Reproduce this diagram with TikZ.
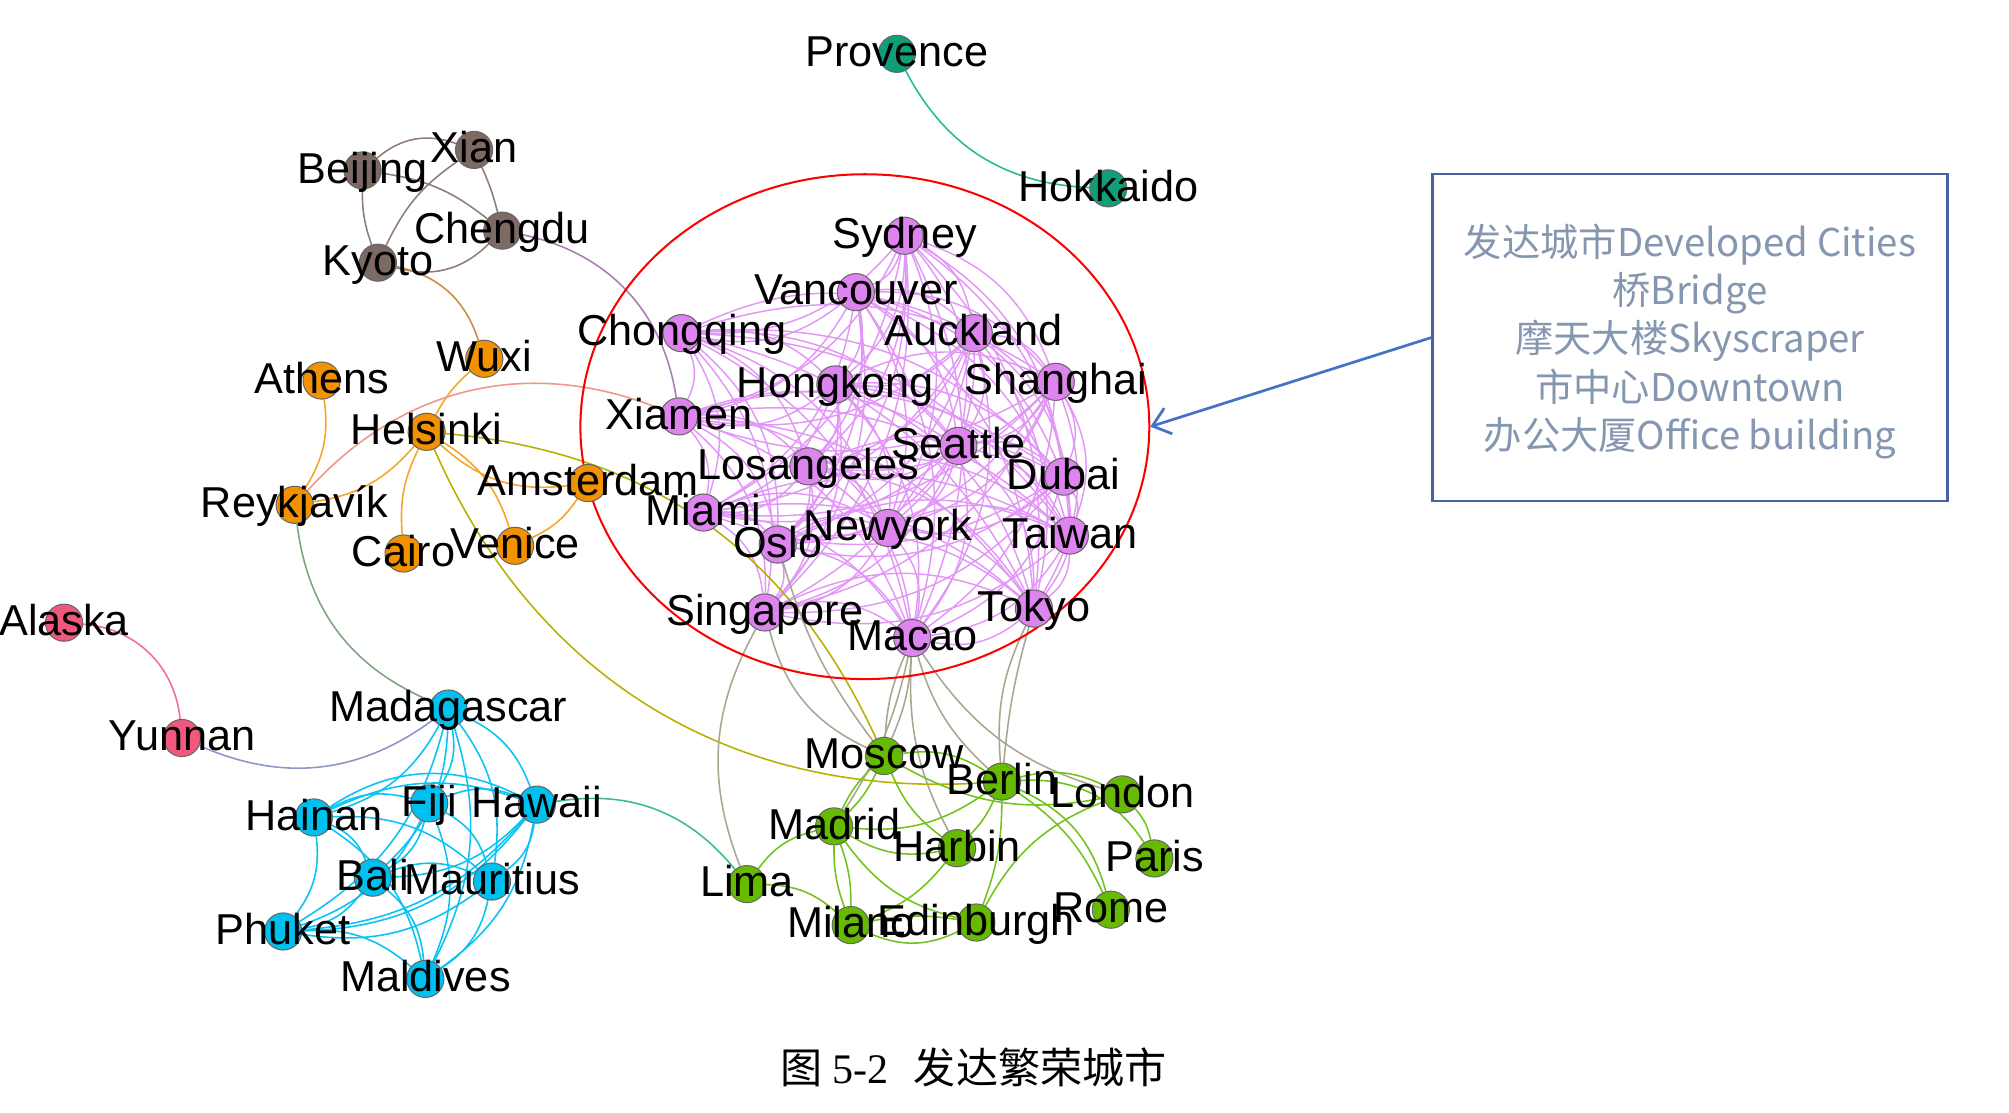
\documentclass[tikz,border=0pt]{standalone}
\usepackage{fontspec}
\setmainfont{Liberation Sans}
\newfontfamily\cjk{Noto Sans CJK SC}
\newfontfamily\serifrm{Liberation Serif}
\usetikzlibrary{arrows.meta,shapes.geometric}
\pgfdeclarelayer{bg}
\pgfsetlayers{bg,main}
\definecolor{cPur}{RGB}{222,132,238}
\definecolor{ePur}{RGB}{226,150,246}
\definecolor{cOra}{RGB}{243,146,0}
\definecolor{eOra}{RGB}{245,165,40}
\definecolor{cBro}{RGB}{125,106,100}
\definecolor{eBro}{RGB}{145,125,120}
\definecolor{cTea}{RGB}{16,158,120}
\definecolor{eTea}{RGB}{40,185,150}
\definecolor{cPin}{RGB}{240,88,125}
\definecolor{ePin}{RGB}{245,110,145}
\definecolor{cCya}{RGB}{0,192,240}
\definecolor{eCya}{RGB}{10,195,245}
\definecolor{cGre}{RGB}{102,187,0}
\definecolor{eGre}{RGB}{115,195,30}
\definecolor{eGry}{RGB}{168,168,145}
\definecolor{eOli}{RGB}{185,175,0}
\definecolor{eSal}{RGB}{240,150,135}
\definecolor{ePlu}{RGB}{170,125,180}
\definecolor{eMos}{RGB}{125,165,125}
\definecolor{eSla}{RGB}{140,150,200}
\definecolor{eSea}{RGB}{60,190,130}
\definecolor{eAmb}{RGB}{200,140,70}
\definecolor{boxc}{RGB}{70,100,165}
\definecolor{arrc}{RGB}{68,114,196}
\definecolor{txtc}{RGB}{132,150,176}
\tikzset{
  city/.style={circle, draw=black!60, line width=0.45pt, minimum size=5.8mm, inner sep=0pt},
  lab/.style={anchor=base, inner sep=0pt, font=\fontsize{19.2pt}{22pt}\selectfont},
  boxtxt/.style={anchor=base, inner sep=0pt, text=txtc, font=\cjk\fontsize{17pt}{20pt}\selectfont},
  ed/.style={line width=0.7pt},
  pe/.style={ePur, line width=0.65pt},
  ce/.style={eCya, line width=0.7pt},
  ge/.style={eGre, line width=0.7pt},
  be/.style={eBro, line width=0.7pt},
  oe/.style={eOra, line width=0.7pt},
  ye/.style={eGry, line width=0.7pt},
}
\begin{document}
\begin{tikzpicture}[x=0.2mm,y=-0.2mm]
\useasboundingbox (0,0) rectangle (1568,868);
% ring and box
\node[ellipse, draw=red, line width=0.9pt, minimum width=88.8mm, minimum height=78.8mm, inner sep=0pt] (ring) at (675,333) {};
\node[draw=boxc, line width=1.1pt, minimum width=80.4mm, minimum height=51mm, inner sep=0pt] (box) at (1319,263.5) {};
\draw[arrc, line width=1.2pt, -{Straight Barb[length=2.6mm,width=4.2mm]}] (box.west) -- (ring.east);
\node[boxtxt] (t1) at (1319,200) {发达城市Developed Cities};
\node[boxtxt] (t2) at (1319,238) {桥Bridge};
\node[boxtxt] (t3) at (1319,275) {摩天大楼Skyscraper};
\node[boxtxt] (t4) at (1319,313) {市中心Downtown};
\node[boxtxt] (t5) at (1319,351) {办公大厦Office building};
\node[anchor=base, inner sep=0pt, font=\fontsize{18.7pt}{22pt}\selectfont] (cap) at (760,846) {\cjk 图 \serifrm 5-2\hspace{0.6em}\cjk 发达繁荣城市};
% nodes
\foreach \n/\x/\y/\c in {
  Provence/700/42/cTea, Hokkaido/865/147/cTea,
  Beijing/283/133/cBro, Xian/370/117/cBro, Chengdu/392/180/cBro, Kyoto/295/205/cBro,
  Wuxi/378/280/cOra, Athens/251/297/cOra, Helsinki/333/337/cOra, Amsterdam/459/377/cOra,
  Reykjavik/230/394/cOra, Cairo/315/432/cOra, Venice/402/426/cOra,
  Alaska/50/486/cPin, Yunnan/142/576/cPin,
  Madagascar/350/553/cCya, Hainan/245/638/cCya, Fiji/335/627/cCya, Hawaii/419/628/cCya,
  Bali/291/685/cCya, Mauritius/384/688/cCya, Phuket/221/727/cCya, Maldives/332/764/cCya,
  Sydney/706/184/cPur, Vancouver/668/228/cPur, Chongqing/532/260/cPur, Auckland/760/260/cPur,
  Hongkong/652/300/cPur, Shanghai/824/298/cPur, Xiamen/530/325/cPur, Seattle/748/348/cPur,
  Losangeles/631/364/cPur, Dubai/830/372/cPur, Miami/549/400/cPur, Oslo/607/425/cPur,
  Newyork/693/412/cPur, Taiwan/835/418/cPur, Singapore/597/478/cPur, Tokyo/807/475/cPur,
  Macao/712/498/cPur,
  Moscow/690/590/cGre, Berlin/782/610/cGre, London/876/620/cGre, Madrid/651/645/cGre,
  Harbin/747/662/cGre, Paris/901/670/cGre, Lima/583/690/cGre, Rome/867/710/cGre,
  Milano/664/722/cGre, Edinburgh/762/720/cGre}
  \node[city, fill=\c] (\n) at (\x,\y) {};
% labels
\foreach \n in {Provence,Hokkaido,Beijing,Xian,Chengdu,Kyoto,Wuxi,Athens,Helsinki,Amsterdam,
  Cairo,Venice,Alaska,Yunnan,Madagascar,Hainan,Fiji,Hawaii,Bali,Mauritius,Phuket,Maldives,
  Sydney,Vancouver,Chongqing,Auckland,Hongkong,Shanghai,Xiamen,Seattle,Losangeles,Dubai,
  Miami,Oslo,Newyork,Taiwan,Singapore,Tokyo,Macao,Moscow,Berlin,London,Madrid,Harbin,
  Paris,Lima,Rome,Milano,Edinburgh}
  \node[lab] (\n-l) at ([yshift=-2mm]\n.center) {\n};
\node[lab] (Reykjavik-l) at ([yshift=-2mm]Reykjavik.center) {Reykjavík};
% edges
\begin{pgfonlayer}{bg}
\def\plist{Sydney,Vancouver,Chongqing,Auckland,Hongkong,Shanghai,Xiamen,Seattle,Losangeles,Dubai,Miami,Oslo,Newyork,Taiwan,Singapore,Tokyo,Macao}
\foreach \a [count=\i] in \plist {
  \foreach \b [count=\j] in \plist {
    \ifnum\j>\i \draw[pe] (\a) to[bend left=25] (\b); \fi
  }
}
\def\clist{Madagascar,Hainan,Fiji,Hawaii,Bali,Mauritius,Phuket,Maldives}
\foreach \a [count=\i] in \clist {
  \foreach \b [count=\j] in \clist {
    \ifnum\j>\i \draw[ce] (\a) to[bend left=22] (\b); \fi
  }
}
\draw[ce] (Phuket) to[bend right=25] (Hawaii);
\draw[ce] (Hainan) to[bend left=30] (Hawaii);
% brown
\draw[be] (Beijing) to[bend left=30] (Xian);
\draw[be] (Beijing) to[bend left=15] (Chengdu);
\draw[be] (Beijing) to[bend right=10] (Kyoto);
\draw[be] (Xian) to[bend left=5] (Chengdu);
\draw[be] (Xian) to[bend right=15] (Kyoto);
\draw[be] (Kyoto) to[bend right=30] (Chengdu);
\draw[ePlu, ed] (Chengdu) to[bend left=35] (Xiamen);
\draw[eAmb, ed] (Kyoto) to[bend left=30] (Wuxi);
% orange
\draw[oe] (Wuxi) to[bend right=10] (Helsinki);
\draw[oe] (Athens) to[bend left=20] (Reykjavik);
\draw[oe] (Helsinki) to[bend left=20] (Reykjavik);
\draw[oe] (Helsinki) to[bend right=15] (Cairo);
\draw[oe] (Helsinki) to[bend left=20] (Venice);
\draw[oe] (Helsinki) to[bend right=25] (Amsterdam);
\draw[oe] (Amsterdam) to[bend left=15] (Venice);
\draw[eSal, ed] (Reykjavik) to[bend left=35] (Xiamen);
\draw[eOli, ed] (Helsinki) to[bend left=30] (Moscow);
\draw[eOli, ed] (Helsinki) to[bend right=35] (Berlin);
\draw[eMos, ed] (Reykjavik) to[bend right=30] (Madagascar);
\draw[ePin, ed] (Alaska) to[bend left=40] (Yunnan);
\draw[eSla, ed] (Yunnan) to[bend right=30] (Madagascar);
\draw[eSea, ed] (Hawaii) to[bend left=30] (Lima);
\draw[ye] (Lima) to[bend left=25] (Singapore);
\draw[eTea, ed] (Provence) to[bend right=30] (Hokkaido);
% purple-green
\draw[ye] (Singapore) to[bend right=25] (Moscow);
\draw[ye] (Macao) to[bend left=10] (Moscow);
\draw[ye] (Macao) to[bend right=10] (Moscow);
\draw[ye] (Macao) to[bend left=10] (Madrid);
\draw[ye] (Macao) to[bend right=15] (Harbin);
\draw[ye] (Macao) to[bend right=15] (Berlin);
\draw[ye] (Macao) to[bend right=20] (London);
\draw[ye] (Tokyo) to[bend right=15] (Berlin);
\draw[ye] (Tokyo) to[bend right=5] (Berlin);
\draw[ye] (Oslo) to[bend right=10] (Moscow);
% green
\draw[ge] (Moscow) to[bend left=20] (Berlin);
\draw[ge] (Moscow) to[bend right=20] (London);
\draw[ge] (Moscow) to[bend left=10] (Madrid);
\draw[ge] (Moscow) to[bend right=10] (Madrid);
\draw[ge] (Moscow) to[bend right=15] (Harbin);
\draw[ge] (Berlin) to[bend left=20] (London);
\draw[ge] (Berlin) to[bend left=20] (Madrid);
\draw[ge] (Berlin) to[bend left=10] (Harbin);
\draw[ge] (Berlin) to[bend left=10] (Edinburgh);
\draw[ge] (Berlin) to[bend left=15] (Rome);
\draw[ge] (Berlin) to[bend left=25] (Rome);
\draw[ge] (Berlin) to[bend left=30] (Paris);
\draw[ge] (London) to[bend left=15] (Paris);
\draw[ge] (London) to[bend right=20] (Edinburgh);
\draw[ge] (Madrid) to[bend right=20] (Lima);
\draw[ge] (Madrid) to[bend right=20] (Harbin);
\draw[ge] (Madrid) to[bend right=10] (Milano);
\draw[ge] (Madrid) to[bend left=10] (Milano);
\draw[ge] (Madrid) to[bend right=20] (Edinburgh);
\draw[ge] (Harbin) to[bend left=15] (Milano);
\draw[ge] (Lima) to[bend left=20] (Milano);
\draw[ge] (Milano) to[bend right=25] (Edinburgh);
\draw[ge] (Milano) to[bend left=10] (Edinburgh);
\end{pgfonlayer}
\end{tikzpicture}
\end{document}
